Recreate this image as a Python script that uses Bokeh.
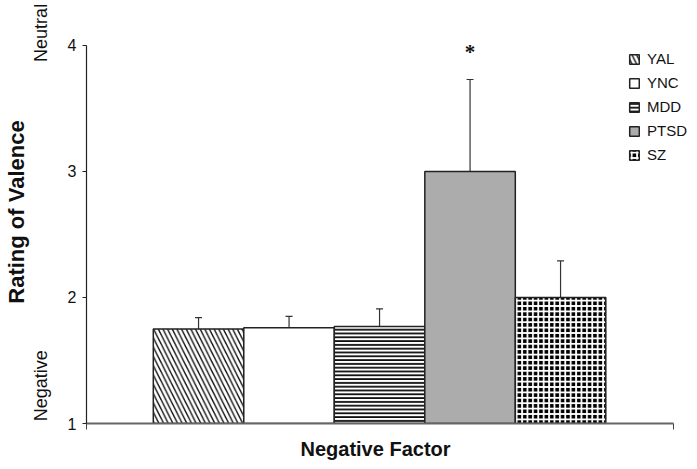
from bokeh.plotting import figure
from bokeh.models import (Range1d, FixedTicker, LinearAxis, ColumnDataSource,
                          Whisker, TeeHead, Title, Legend, LegendItem)
from bokeh.embed import file_html
from bokeh.resources import INLINE

# ---- data ----
groups = ["YAL", "YNC", "MDD", "PTSD", "SZ"]
means = [1.75, 1.76, 1.77, 3.00, 2.00]
sem = [0.09, 0.09, 0.14, 0.73, 0.29]
x_title = "Negative Factor"
y_title = "Rating of Valence"
y_ticks = [1, 2, 3, 4]
anchor_labels = {1.30: "Negative", 4.10: "Neutral"}
star_group = "PTSD"

FONT = "Liberation Sans"

p = figure(width=697, height=469, output_backend="svg", toolbar_location=None,
           x_range=Range1d(-0.238, 6.502), y_range=Range1d(1, 4.357),
           min_border_left=84, min_border_right=1, min_border_top=0,
           min_border_bottom=46, outline_line_color=None)
p.xgrid.visible = False
p.ygrid.visible = False
p.background_fill_color = "white"

# main y axis
ya = p.yaxis[0]
ya.ticker = FixedTicker(ticks=y_ticks)
ya.bounds = (1, 4)
ya.minor_tick_line_color = None
ya.major_tick_in = 0
ya.major_tick_out = 4
ya.major_label_standoff = 6
ya.axis_line_color = "#222222"
ya.axis_line_width = 1.2
ya.major_tick_line_color = "#222222"
ya.major_label_text_font = FONT
ya.major_label_text_font_size = "16px"
ya.major_label_text_color = "#111111"

# outer y axis: Negative / Neutral + title
ya2 = LinearAxis(ticker=FixedTicker(ticks=list(anchor_labels.keys())),
                 major_label_overrides=anchor_labels,
                 major_label_orientation="vertical",
                 bounds=(min(anchor_labels), max(anchor_labels) + 0.01),
                 axis_line_color=None, major_tick_line_color=None,
                 minor_tick_line_color=None, major_tick_out=0, major_tick_in=0,
                 major_label_standoff=13,
                 major_label_text_font=FONT, major_label_text_font_size="18px",
                 major_label_text_color="#111111",
                 axis_label=y_title, axis_label_text_font=FONT,
                 axis_label_text_font_size="22px", axis_label_text_font_style="bold",
                 axis_label_text_color="#111111", axis_label_standoff=0)
p.add_layout(ya2, "left")

# x axis (line from the y axis to its right-hand end tick)
x_lo, x_hi = -0.238, 6.249
xa = p.xaxis[0]
xa.ticker = FixedTicker(ticks=[x_lo, x_hi])
xa.bounds = (x_lo, x_hi)
xa.major_label_overrides = {x_lo: "", x_hi: ""}
xa.major_label_text_font_size = "1px"
xa.major_label_standoff = 0
xa.minor_tick_line_color = None
xa.major_tick_in = 0
xa.major_tick_out = 6
xa.axis_line_color = "#666666"
xa.axis_line_width = 2
xa.major_tick_line_color = "#444444"

# x-axis title, offset so that it is centred under the bars
p.add_layout(Title(text=x_title, align="left", offset=214, standoff=12,
                   text_font=FONT, text_font_size="20px", text_font_style="bold",
                   text_color="#111111"), "below")

styles = {
    "YAL": dict(fill_color="white", hatch_pattern="\\", hatch_scale=9.3, hatch_weight=1.4, hatch_color="#111111"),
    "YNC": dict(fill_color="white"),
    "MDD": dict(fill_color="white", hatch_pattern="-", hatch_scale=3.8, hatch_weight=1.7, hatch_color="#000000"),
    "PTSD": dict(fill_color="#acacac"),
    "SZ": dict(fill_color="#000000", hatch_pattern="+", hatch_scale=5.4, hatch_weight=1.8, hatch_color="white"),
}

xs = list(range(1, len(groups) + 1))
items = []
for i, g in enumerate(groups):
    src = ColumnDataSource(dict(x=[xs[i]], top=[means[i]]))
    r = p.vbar(x="x", top="top", bottom=1, width=1.0, source=src,
               line_color="#222222", line_width=1.5, **styles[g])
    items.append(LegendItem(label=g, renderers=[r]))

err_src = ColumnDataSource(dict(x=xs, lower=means, upper=[m + s for m, s in zip(means, sem)]))
w = Whisker(source=err_src, base="x", lower="lower", upper="upper", dimension="height",
            line_color="#333333", line_width=1.2, lower_head=None,
            upper_head=TeeHead(size=7, line_color="#333333", line_width=1.2))
p.add_layout(w)

si = groups.index(star_group)
p.text(x=[xs[si]], y=[means[si] + sem[si] + 0.215], text=["*"], text_align="center",
       text_baseline="middle", text_font_size="21px", text_font_style="bold",
       text_color="#111111", text_font=FONT)

leg = Legend(items=items, location=(542, 260), border_line_color=None,
             background_fill_alpha=0, padding=2, spacing=7, glyph_width=12,
             glyph_height=12, label_standoff=7, label_text_font=FONT,
             label_text_font_size="15px", label_text_color="#111111", label_height=14)
p.add_layout(leg)

open("out.html", "w").write(file_html(p, INLINE))
